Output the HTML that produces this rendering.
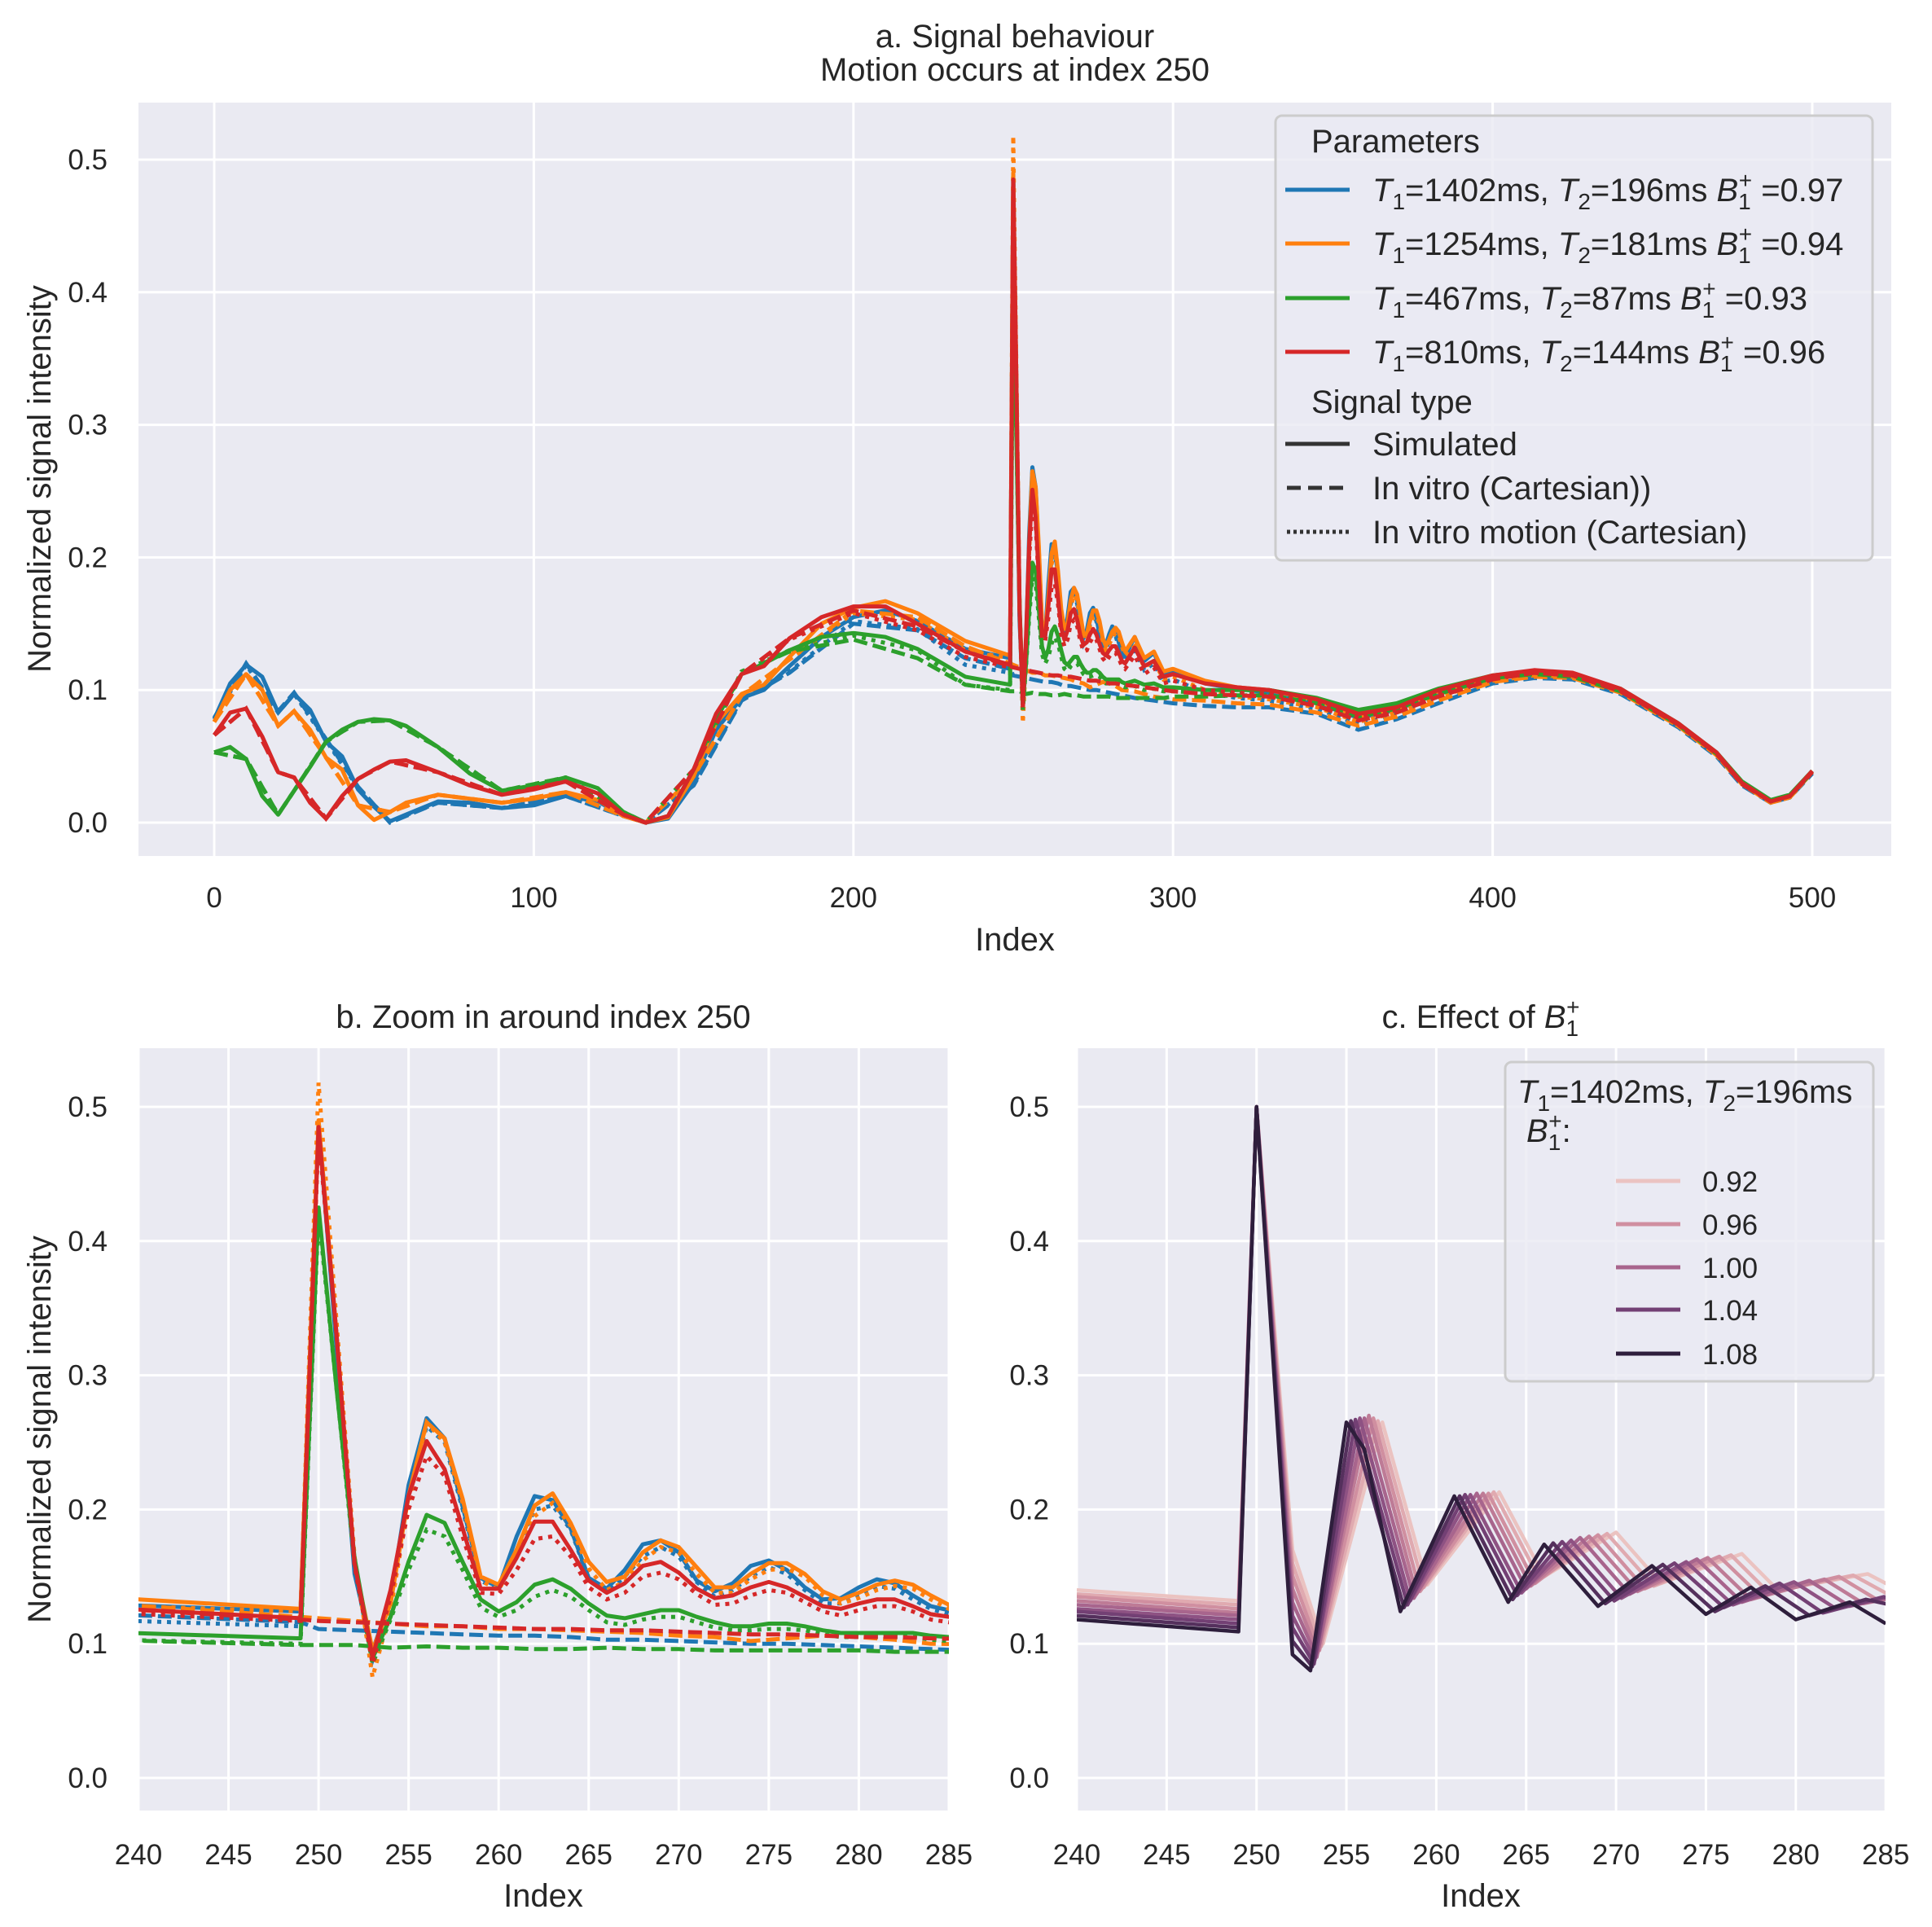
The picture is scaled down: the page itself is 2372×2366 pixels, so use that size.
<!DOCTYPE html>
<html><head><meta charset="utf-8"><title>Signal behaviour</title>
<style>
html,body{margin:0;padding:0;background:#fff;}
svg{display:block;font-family:"Liberation Sans",Arial,sans-serif;}
text{fill:#262626;}
</style></head>
<body>
<svg id="fig" width="2372" height="2366" viewBox="0 0 2372 2366" xmlns="http://www.w3.org/2000/svg">
<defs>
<clipPath id="clipA"><rect x="170" y="126" width="2152" height="925"/></clipPath>
<clipPath id="clipB"><rect x="170" y="1287" width="995" height="936"/></clipPath>
<clipPath id="clipC"><rect x="1322" y="1287" width="993" height="936"/></clipPath>
</defs>
<rect x="170" y="126" width="2152" height="925" fill="#eaeaf2"/>
<rect x="170" y="1287" width="995" height="936" fill="#eaeaf2"/>
<rect x="1322" y="1287" width="993" height="936" fill="#eaeaf2"/>
<g id="gridA"></g>
<g id="gridB"></g>
<g id="gridC"></g>
<g id="linesA" clip-path="url(#clipA)"></g>
<g id="linesB" clip-path="url(#clipB)"></g>
<g id="linesC" clip-path="url(#clipC)"></g>
<g id="ticks" font-size="35"></g>

<text x="1246" y="58" font-size="40" text-anchor="middle">a. Signal behaviour</text>
<text x="1246" y="99" font-size="40" text-anchor="middle">Motion occurs at index 250</text>
<text x="1246" y="1167" font-size="40" text-anchor="middle">Index</text>
<text transform="translate(62,588) rotate(-90)" font-size="40" text-anchor="middle">Normalized signal intensity</text>

<text x="667" y="1262" font-size="40" text-anchor="middle">b. Zoom in around index 250</text>
<text x="667" y="2341" font-size="40" text-anchor="middle">Index</text>
<text transform="translate(62,1755) rotate(-90)" font-size="40" text-anchor="middle">Normalized signal intensity</text>

<text x="1818" y="1262" font-size="40" text-anchor="middle">c. Effect of <tspan font-style="italic">B</tspan><tspan font-size="28" dy="10">1</tspan><tspan font-size="28" dx="-15" dy="-26">+</tspan></text>
<text x="1818" y="2341" font-size="40" text-anchor="middle">Index</text>

<g>
<rect x="1566" y="142" width="733" height="546" rx="8" fill="#eaeaf2" fill-opacity="0.8" stroke="#cccccc" stroke-width="3"/>
<text x="1610" y="187" font-size="40">Parameters</text>
<line x1="1578" y1="233" x2="1657" y2="233" stroke="#1f77b4" stroke-width="5"/>
<text x="1685" y="247" font-size="40"><tspan font-style="italic">T</tspan><tspan font-size="28" dy="10">1</tspan><tspan dy="-10">=1402ms, </tspan><tspan font-style="italic">T</tspan><tspan font-size="28" dy="10">2</tspan><tspan dy="-10">=196ms </tspan><tspan font-style="italic">B</tspan><tspan font-size="28" dy="10">1</tspan><tspan font-size="28" dx="-15" dy="-26">+</tspan><tspan dy="16"> =0.97</tspan></text>
<line x1="1578" y1="299" x2="1657" y2="299" stroke="#ff7f0e" stroke-width="5"/>
<text x="1685" y="313" font-size="40"><tspan font-style="italic">T</tspan><tspan font-size="28" dy="10">1</tspan><tspan dy="-10">=1254ms, </tspan><tspan font-style="italic">T</tspan><tspan font-size="28" dy="10">2</tspan><tspan dy="-10">=181ms </tspan><tspan font-style="italic">B</tspan><tspan font-size="28" dy="10">1</tspan><tspan font-size="28" dx="-15" dy="-26">+</tspan><tspan dy="16"> =0.94</tspan></text>
<line x1="1578" y1="366" x2="1657" y2="366" stroke="#2ca02c" stroke-width="5"/>
<text x="1685" y="380" font-size="40"><tspan font-style="italic">T</tspan><tspan font-size="28" dy="10">1</tspan><tspan dy="-10">=467ms, </tspan><tspan font-style="italic">T</tspan><tspan font-size="28" dy="10">2</tspan><tspan dy="-10">=87ms </tspan><tspan font-style="italic">B</tspan><tspan font-size="28" dy="10">1</tspan><tspan font-size="28" dx="-15" dy="-26">+</tspan><tspan dy="16"> =0.93</tspan></text>
<line x1="1578" y1="432" x2="1657" y2="432" stroke="#d62728" stroke-width="5"/>
<text x="1685" y="446" font-size="40"><tspan font-style="italic">T</tspan><tspan font-size="28" dy="10">1</tspan><tspan dy="-10">=810ms, </tspan><tspan font-style="italic">T</tspan><tspan font-size="28" dy="10">2</tspan><tspan dy="-10">=144ms </tspan><tspan font-style="italic">B</tspan><tspan font-size="28" dy="10">1</tspan><tspan font-size="28" dx="-15" dy="-26">+</tspan><tspan dy="16"> =0.96</tspan></text>
<text x="1610" y="507" font-size="40">Signal type</text>
<line x1="1578" y1="545" x2="1657" y2="545" stroke="#333" stroke-width="5"/>
<text x="1685" y="559" font-size="40">Simulated</text>
<line x1="1580" y1="599" x2="1657" y2="599" stroke="#333" stroke-width="5" stroke-dasharray="17,9"/>
<text x="1685" y="613" font-size="40">In vitro (Cartesian))</text>
<line x1="1580" y1="653" x2="1657" y2="653" stroke="#333" stroke-width="5" stroke-dasharray="4,4"/>
<text x="1685" y="667" font-size="40">In vitro motion (Cartesian)</text>
</g>

<g>
<rect x="1848" y="1304" width="452" height="392" rx="8" fill="#eaeaf2" fill-opacity="0.8" stroke="#cccccc" stroke-width="3"/>
<text x="1863" y="1354" font-size="40"><tspan font-style="italic">T</tspan><tspan font-size="28" dy="10">1</tspan><tspan dy="-10">=1402ms, </tspan><tspan font-style="italic">T</tspan><tspan font-size="28" dy="10">2</tspan><tspan dy="-10">=196ms</tspan></text>
<text x="1874" y="1402" font-size="40"><tspan font-style="italic">B</tspan><tspan font-size="28" dy="10">1</tspan><tspan font-size="28" dx="-15" dy="-26">+</tspan><tspan dy="16">:</tspan></text>
<g id="legendC"></g>
</g>

<script>
const idxPre = [0,5,10,15,20,25,30,35,40,45,50,55,60,70,80,90,100,110,120,128,135,142,150,157,165,172,180,190,200,210,220,235,249];
const idxPreCoarse = [0,10,20,25,35,45,55,70,90,110,128,135,150,165,180,200,220,235,249];
const idxZoom = [250,251,252,253,254,255,256,257,258,259,260,261,262,263,264,265,266,267,268,269,270,271,272,273,274,275,276,277,278,279,280,281,282,283,284,285];
const idxZoomDash = [250,252,254,256,258,260,262,264,266,268,270,272,274,276,278,280,282,284];
const idxPost = [288,291,294,297,300,310,320,330,345,358,370,383,400,413,425,440,458,470,478,487,493,500];

const blueSolid = [0.078,0.105,0.119,0.110,0.083,0.097,0.085,0.061,0.050,0.025,0.012,0.001,0.006,0.016,0.015,0.011,0.013,0.020,0.016,0.005,0.000,0.003,0.030,0.070,0.094,0.100,0.118,0.140,0.155,0.160,0.152,0.131,0.124,
 0.488,0.32,0.152,0.095,0.133,0.218,0.268,0.253,0.202,0.149,0.142,0.180,0.210,0.207,0.186,0.149,0.141,0.155,0.174,0.177,0.168,0.147,0.139,0.145,0.158,0.162,0.155,0.142,0.133,0.134,0.142,0.148,0.145,0.136,0.128,0.125,
 0.140,0.122,0.128,0.112,0.115,0.105,0.101,0.098,0.090,0.079,0.085,0.098,0.108,0.113,0.111,0.100,0.074,0.052,0.030,0.016,0.020,0.039];
const orangeSolid = [0.076,0.100,0.112,0.100,0.073,0.084,0.070,0.049,0.040,0.013,0.002,0.008,0.015,0.021,0.018,0.015,0.018,0.023,0.017,0.005,0.000,0.004,0.035,0.075,0.097,0.104,0.125,0.150,0.162,0.167,0.158,0.137,0.126,
 0.490,0.33,0.160,0.095,0.130,0.210,0.265,0.253,0.208,0.150,0.144,0.170,0.203,0.212,0.190,0.161,0.146,0.150,0.168,0.177,0.172,0.157,0.142,0.142,0.152,0.160,0.160,0.152,0.139,0.133,0.138,0.144,0.147,0.144,0.136,0.129,
 0.140,0.124,0.129,0.114,0.116,0.107,0.102,0.100,0.092,0.080,0.086,0.099,0.110,0.114,0.112,0.100,0.074,0.052,0.030,0.016,0.020,0.039];
const greenSolid = [0.053,0.057,0.048,0.020,0.006,0.024,0.042,0.061,0.070,0.076,0.078,0.077,0.073,0.057,0.037,0.024,0.028,0.034,0.026,0.008,0.000,0.005,0.040,0.078,0.112,0.120,0.130,0.140,0.143,0.140,0.131,0.110,0.104,
 0.425,0.29,0.164,0.089,0.120,0.161,0.196,0.190,0.161,0.133,0.124,0.131,0.144,0.148,0.141,0.130,0.121,0.119,0.122,0.125,0.125,0.120,0.116,0.113,0.113,0.115,0.115,0.113,0.110,0.108,0.108,0.108,0.108,0.108,0.106,0.105,
 0.107,0.104,0.105,0.102,0.102,0.100,0.100,0.100,0.094,0.085,0.090,0.101,0.111,0.114,0.112,0.101,0.075,0.053,0.031,0.017,0.021,0.039];
const redSolid = [0.066,0.083,0.086,0.065,0.038,0.034,0.015,0.003,0.020,0.033,0.040,0.046,0.047,0.038,0.028,0.021,0.025,0.031,0.022,0.006,0.000,0.005,0.040,0.082,0.112,0.118,0.139,0.155,0.163,0.163,0.150,0.129,0.119,
 0.485,0.33,0.160,0.090,0.140,0.210,0.251,0.230,0.186,0.141,0.141,0.164,0.191,0.191,0.170,0.147,0.138,0.145,0.158,0.161,0.153,0.141,0.134,0.136,0.142,0.146,0.142,0.135,0.128,0.126,0.130,0.133,0.133,0.128,0.122,0.120,
 0.132,0.118,0.122,0.110,0.112,0.105,0.102,0.100,0.093,0.082,0.087,0.100,0.111,0.115,0.113,0.101,0.075,0.053,0.030,0.016,0.020,0.039];

const blueDash = [0.079,0.120,0.084,0.098,0.063,0.027,0.000,0.015,0.011,0.020,0.005,0.000,0.028,0.092,0.113,0.150,0.145,0.124,0.116,
 0.111,0.110,0.109,0.108,0.107,0.106,0.106,0.105,0.103,0.103,0.102,0.101,0.100,0.100,0.099,0.098,0.097,0.096,
 0.094,0.093,0.092,0.091,0.090,0.088,0.087,0.087,0.082,0.070,0.078,0.090,0.105,0.109,0.108,0.097,0.072,0.050,0.028,0.015,0.019,0.037];
const orangeDash = [0.076,0.112,0.073,0.084,0.049,0.013,0.008,0.021,0.015,0.023,0.005,0.000,0.035,0.096,0.123,0.160,0.155,0.133,0.120,
 0.119,0.117,0.115,0.113,0.113,0.111,0.111,0.110,0.109,0.108,0.106,0.105,0.102,0.104,0.106,0.105,0.103,0.100,
 0.099,0.097,0.095,0.094,0.093,0.092,0.090,0.089,0.083,0.073,0.080,0.092,0.106,0.110,0.109,0.098,0.073,0.051,0.029,0.015,0.019,0.038];
const greenDash = [0.053,0.048,0.006,0.024,0.061,0.076,0.077,0.057,0.024,0.034,0.008,0.000,0.040,0.113,0.129,0.138,0.124,0.104,0.099,
 0.099,0.099,0.097,0.098,0.097,0.097,0.096,0.096,0.097,0.096,0.096,0.095,0.095,0.095,0.095,0.095,0.094,0.094,
 0.094,0.094,0.094,0.094,0.095,0.095,0.096,0.096,0.090,0.080,0.086,0.097,0.109,0.112,0.110,0.099,0.074,0.052,0.030,0.016,0.020,0.038];
const redDash = [0.066,0.086,0.038,0.034,0.003,0.033,0.046,0.038,0.021,0.031,0.006,0.000,0.040,0.112,0.139,0.160,0.148,0.129,0.118,
 0.117,0.116,0.115,0.114,0.113,0.112,0.111,0.111,0.110,0.110,0.109,0.108,0.107,0.107,0.106,0.105,0.105,0.104,
 0.103,0.102,0.101,0.100,0.099,0.097,0.096,0.095,0.088,0.077,0.083,0.095,0.108,0.113,0.111,0.099,0.074,0.052,0.029,0.016,0.020,0.038];

const blueDot = [0.078,0.119,0.083,0.097,0.062,0.026,0.001,0.015,0.011,0.020,0.005,0.000,0.029,0.093,0.114,0.152,0.146,0.119,0.113,
 0.49,0.33,0.155,0.088,0.13,0.21,0.262,0.25,0.20,0.147,0.140,0.170,0.200,0.203,0.185,0.148,0.138,0.150,0.165,0.172,0.165,0.146,0.135,0.140,0.150,0.157,0.152,0.140,0.130,0.130,0.137,0.143,0.141,0.133,0.126,0.122,
 0.130,0.115,0.120,0.106,0.108,0.098,0.094,0.092,0.086,0.074,0.082,0.094,0.106,0.110,0.109,0.098,0.073,0.051,0.029,0.015,0.019,0.038];
const orangeDot = [0.076,0.112,0.073,0.084,0.049,0.013,0.008,0.021,0.015,0.023,0.005,0.000,0.035,0.096,0.123,0.158,0.153,0.130,0.124,
 0.518,0.34,0.165,0.075,0.125,0.205,0.265,0.250,0.205,0.147,0.140,0.165,0.195,0.205,0.188,0.156,0.140,0.146,0.162,0.172,0.168,0.152,0.138,0.138,0.148,0.155,0.156,0.150,0.136,0.130,0.134,0.140,0.143,0.141,0.133,0.126,
 0.133,0.117,0.122,0.108,0.110,0.100,0.095,0.093,0.087,0.076,0.083,0.095,0.107,0.111,0.110,0.099,0.073,0.051,0.029,0.015,0.019,0.038];
const greenDot = [0.053,0.048,0.006,0.024,0.061,0.076,0.077,0.057,0.024,0.034,0.008,0.000,0.040,0.114,0.130,0.141,0.130,0.104,0.100,
 0.42,0.29,0.16,0.085,0.118,0.155,0.185,0.180,0.155,0.127,0.120,0.125,0.135,0.140,0.135,0.125,0.116,0.114,0.118,0.120,0.120,0.116,0.112,0.110,0.110,0.111,0.111,0.110,0.107,0.105,0.105,0.105,0.105,0.105,0.103,0.102,
 0.103,0.100,0.101,0.099,0.099,0.098,0.098,0.098,0.092,0.083,0.088,0.099,0.110,0.113,0.111,0.100,0.074,0.052,0.030,0.016,0.020,0.038];
const redDot = [0.066,0.086,0.038,0.034,0.003,0.033,0.046,0.038,0.021,0.031,0.006,0.000,0.040,0.112,0.138,0.158,0.145,0.125,0.117,
 0.48,0.33,0.158,0.085,0.135,0.20,0.240,0.225,0.18,0.138,0.137,0.155,0.178,0.180,0.165,0.142,0.133,0.138,0.150,0.153,0.148,0.137,0.129,0.130,0.136,0.140,0.138,0.131,0.124,0.121,0.125,0.128,0.128,0.124,0.118,0.116,
 0.126,0.112,0.117,0.105,0.107,0.100,0.098,0.097,0.090,0.079,0.085,0.097,0.109,0.113,0.111,0.100,0.074,0.052,0.029,0.016,0.020,0.038];

const b1Levels = [0.92,0.94,0.96,0.98,1.00,1.02,1.04,1.06,1.08];
const b1LegendLabels = ["0.92","0.96","1.00","1.04","1.08"];
const cIdx = [
 [240,249,250,252,253.7,257,259.5,263.5,266,270,272.5,277,279,284,286,290.5],
 [240,249,250,252,253.6,256.75,259.3,263.2,265.75,269.5,272.1,276.4,278.5,283.2,285.25,289.6],
 [240,249,250,252,253.5,256.5,259.1,262.9,265.5,269,271.6,275.75,278,282.4,284.5,288.6],
 [240,249,250,252,253.4,256.25,258.9,262.6,265.25,268.5,271.2,275.1,277.5,281.6,283.75,287.7],
 [240,249,250,252,253.35,256,258.75,262.25,265,268,270.75,274.5,277,280.75,283,286.75],
 [240,249,250,252,253.25,255.75,258.55,261.9,264.75,267.5,270.3,273.9,276.5,279.9,282.25,285.8],
 [240,249,250,252,253.2,255.5,258.4,261.6,264.5,267,269.9,273.25,276,279.1,281.5,284.9,287],
 [240,249,250,252,253.1,255.25,258.2,261.3,264.25,266.5,269.4,272.6,275.5,278.3,280.75,283.9,287],
 [240,249,250,252,253,255,256,258,261,264,266,269,272,275,277.5,280,283,285]
];
const cVal = [
 [0.140,0.132,0.500,0.170,0.100,0.265,0.144,0.213,0.150,0.183,0.145,0.167,0.140,0.152,0.138,0.146],
 [0.137,0.129,0.500,0.160,0.098,0.266,0.142,0.213,0.148,0.182,0.143,0.166,0.138,0.151,0.136,0.144],
 [0.135,0.126,0.500,0.151,0.095,0.268,0.139,0.212,0.145,0.181,0.141,0.165,0.136,0.150,0.133,0.142],
 [0.132,0.123,0.500,0.141,0.093,0.270,0.137,0.212,0.143,0.180,0.139,0.164,0.133,0.148,0.130,0.140],
 [0.129,0.121,0.500,0.131,0.090,0.268,0.134,0.212,0.141,0.179,0.137,0.163,0.131,0.147,0.128,0.139],
 [0.126,0.118,0.500,0.121,0.088,0.268,0.132,0.211,0.138,0.177,0.134,0.161,0.129,0.146,0.126,0.137],
 [0.124,0.115,0.500,0.112,0.085,0.267,0.129,0.211,0.136,0.176,0.132,0.160,0.127,0.145,0.123,0.135,0.128],
 [0.121,0.112,0.500,0.102,0.083,0.266,0.127,0.210,0.133,0.175,0.130,0.159,0.124,0.143,0.121,0.133,0.124],
 [0.118,0.109,0.500,0.092,0.080,0.265,0.245,0.124,0.210,0.131,0.174,0.128,0.158,0.122,0.142,0.118,0.131,0.115]
];
const cColors = ["#ebc3c1","#e0aab0","#d08fa0","#be7b96","#a8658d","#8e5283","#734074","#55305d","#2e1e3c"];

const xTicksA = [0,100,200,300,400,500];
const xTicksBC = [240,245,250,255,260,265,270,275,280,285];
const yTicks = [0.0,0.1,0.2,0.3,0.4,0.5];

const xA = i => 263 + i * 3.924;
const yA = v => 1010 - v * 1628;
const xB = i => 170 + (i - 240) * 22.11;
const xC = i => 1322 + (i - 240) * 22.07;
const yBC = v => 2183 - v * 1648;

const NS = "http://www.w3.org/2000/svg";
function mk(tag, attrs, parent){
  const e = document.createElementNS(NS, tag);
  for (const k in attrs) e.setAttribute(k, attrs[k]);
  parent.appendChild(e);
  return e;
}
function grid(gid, xt, xs, yt, ys, x0, x1, y0, y1){
  const g = document.getElementById(gid);
  xt.forEach(t => {
    const l = mk('line', {x1: xs(t), x2: xs(t), y1: y0, y2: y1, stroke: '#fff', 'stroke-width': 3}, g);
    
    
  });
  yt.forEach(t => {
    const l = mk('line', {x1: x0, x2: x1, y1: ys(t), y2: ys(t), stroke: '#fff', 'stroke-width': 3}, g);
    
    
  });
}
grid('gridA', xTicksA, xA, yTicks, yA, 170, 2322, 126, 1051);
grid('gridB', xTicksBC, xB, yTicks, yBC, 170, 1165, 1287, 2223);
grid('gridC', xTicksBC, xC, yTicks, yBC, 1322, 2315, 1287, 2223);

const tg = document.getElementById('ticks');
function tickLabels(xt, xs, xy, yt, ys, yx, pfx){
  xt.forEach(t => {
    const e = mk('text', {x: xs(t), y: xy, 'text-anchor': 'middle'}, tg);
    e.textContent = String(t);
    
    
  });
  yt.forEach(t => {
    const e = mk('text', {x: yx, y: ys(t) + 12, 'text-anchor': 'end'}, tg);
    e.textContent = t.toFixed(1);
    
    
  });
}
tickLabels(xTicksA, xA, 1114, yTicks, yA, 132, 'panel-a');
tickLabels(xTicksBC, xB, 2289, yTicks, yBC, 132, 'panel-b');
tickLabels(xTicksBC, xC, 2289, yTicks, yBC, 1288, 'panel-c');

function pathD(xsArr, vals, xs, ys){
  let d = '';
  for (let i = 0; i < xsArr.length && i < vals.length; i++){
    d += (i ? 'L' : 'M') + xs(xsArr[i]).toFixed(1) + ',' + ys(vals[i]).toFixed(1);
  }
  return d;
}
const idxSolid = idxPre.concat(idxZoom, idxPost);
const idxDash = idxPreCoarse.concat(idxZoomDash, idxPost);
const idxDot = idxPreCoarse.concat(idxZoom, idxPost);
const seriesList = [
  ['blue', '#1f77b4', blueSolid, blueDash, blueDot],
  ['orange', '#ff7f0e', orangeSolid, orangeDash, orangeDot],
  ['green', '#2ca02c', greenSolid, greenDash, greenDot],
  ['red', '#d62728', redSolid, redDash, redDot]
];
function drawPanel(gid, xs, ys, w){
  const g = document.getElementById(gid);
  seriesList.forEach(s => {
    const p1 = mk('path', {d: pathD(idxSolid, s[2], xs, ys), fill: 'none', stroke: s[1], 'stroke-width': w, 'stroke-linejoin': 'round'}, g);
    
    
    const p2 = mk('path', {d: pathD(idxDash, s[3], xs, ys), fill: 'none', stroke: s[1], 'stroke-width': w, 'stroke-dasharray': '17,7'}, g);
    
    
    const p3 = mk('path', {d: pathD(idxDot, s[4], xs, ys), fill: 'none', stroke: s[1], 'stroke-width': w, 'stroke-dasharray': '5,7'}, g);
    
    
  });
}
drawPanel('linesA', xA, yA, 5);
drawPanel('linesB', xB, yBC, 5);

const gc = document.getElementById('linesC');
b1Levels.forEach((b, k) => {
  const p = mk('path', {d: pathD(cIdx[k], cVal[k], xC, yBC), fill: 'none', stroke: cColors[k], 'stroke-width': 4.5, 'stroke-linejoin': 'round'}, gc);
  
  
});

const lc = document.getElementById('legendC');
const legY = [1450,1503,1556,1608,1662];
b1LegendLabels.forEach((lab, j) => {
  const col = cColors[j * 2];
  const l = mk('line', {x1: 1984, x2: 2063, y1: legY[j], y2: legY[j], stroke: col, 'stroke-width': 5}, lc);
  
  
  const t = mk('text', {x: 2090, y: legY[j] + 13, 'font-size': 35}, lc);
  t.textContent = lab;
  
  
});
</script>
</svg>
</body></html>
